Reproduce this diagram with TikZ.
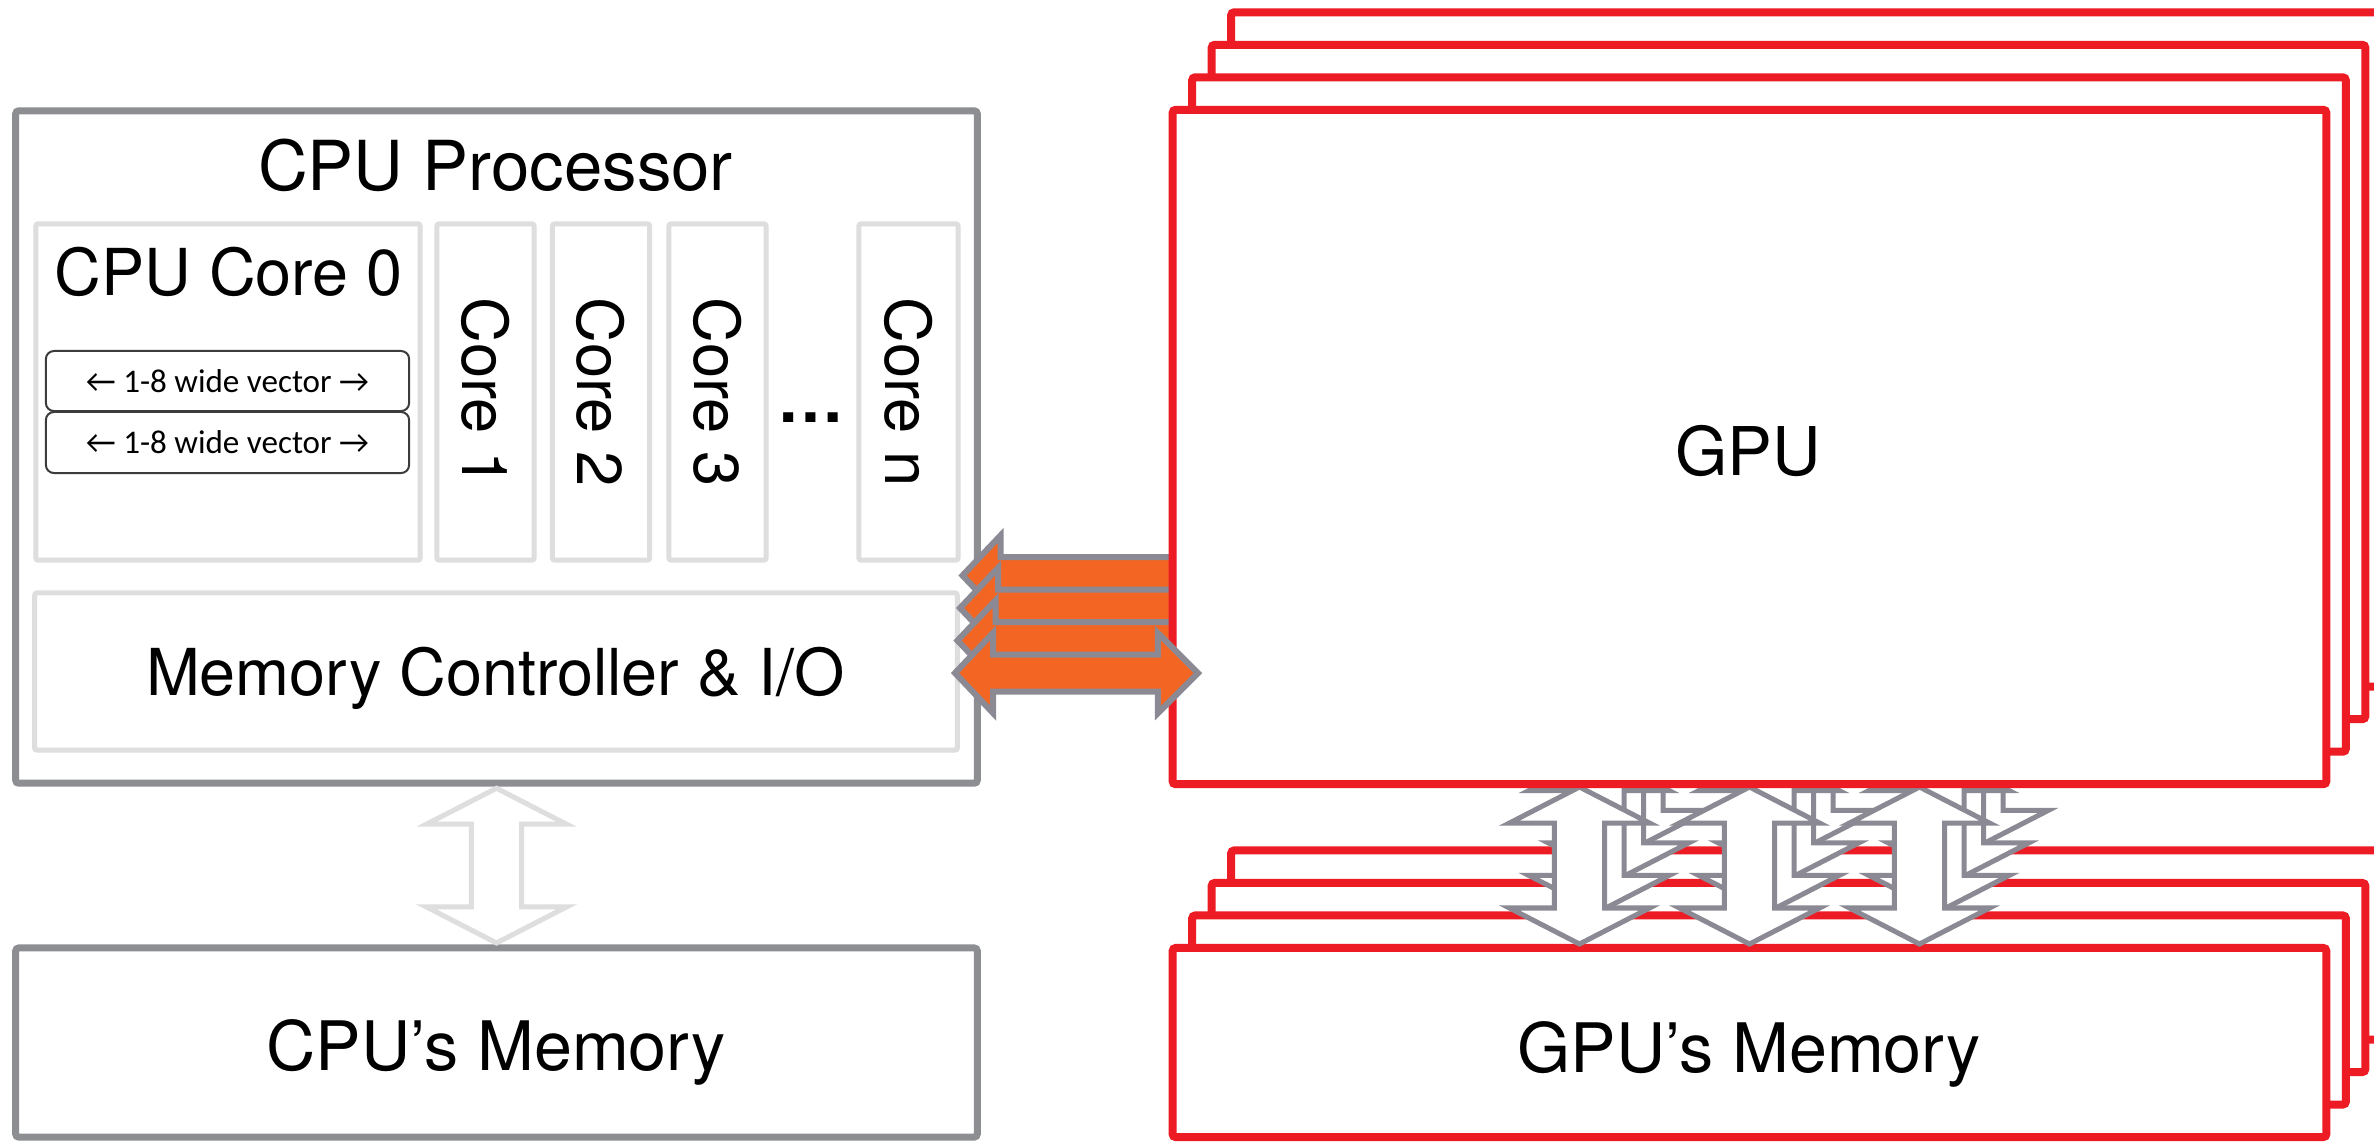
\documentclass[tikz,border=0pt]{standalone}
\usepackage{fontspec}
\setmainfont{TeX Gyre Heros}
\newfontfamily\vecfont{Carlito}
\usetikzlibrary{calc}
\definecolor{cpugray}{RGB}{140,142,145}
\definecolor{lightgrayb}{RGB}{222,222,222}
\definecolor{gpured}{RGB}{237,28,36}
\definecolor{arrorange}{RGB}{242,101,34}
\definecolor{arrgray}{RGB}{139,138,148}
\definecolor{vecgray}{RGB}{60,60,60}
\newcommand\fsz[1]{\fontsize{#1}{#1}\selectfont}
% vertical double block arrow: style, top point, bottom point
\newcommand\vdarrow[3]{%
 \draw[#1] let \p1=(#2), \p2=(#3) in
  (\x1,\y1) -- (\x1+0.70cm,\y1-0.36cm) -- (\x1+0.25cm,\y1-0.36cm) -- (\x1+0.25cm,\y2+0.36cm)
  -- (\x1+0.70cm,\y2+0.36cm) -- (\x1,\y2) -- (\x1-0.70cm,\y2+0.36cm) -- (\x1-0.25cm,\y2+0.36cm)
  -- (\x1-0.25cm,\y1-0.36cm) -- (\x1-0.70cm,\y1-0.36cm) -- cycle;}
% horizontal double block arrow: style, left point, right point
\newcommand\hdarrow[3]{%
 \draw[#1] let \p1=(#2), \p2=(#3) in
  (\x1,\y1) -- (\x1+0.38cm,\y1+0.40cm) -- (\x1+0.38cm,\y1+0.185cm) -- (\x2-0.40cm,\y1+0.185cm)
  -- (\x2-0.40cm,\y1+0.40cm) -- (\x2,\y1) -- (\x2-0.40cm,\y1-0.40cm) -- (\x2-0.40cm,\y1-0.185cm)
  -- (\x1+0.38cm,\y1-0.185cm) -- (\x1+0.38cm,\y1-0.40cm) -- cycle;}
\begin{document}
\begin{tikzpicture}[x=0.01cm,y=-0.01cm,
  cpubox/.style={draw=cpugray, line width=0.07cm, fill=white, rounded corners=0.03cm, inner sep=0, outer sep=0},
  corebox/.style={draw=lightgrayb, line width=0.05cm, rounded corners=0.02cm, inner sep=0, outer sep=0},
  vecbox/.style={draw=vecgray, line width=0.02cm, rounded corners=0.08cm, inner sep=0, outer sep=0, font=\vecfont\fsz{9.4pt}},
  gpubox/.style={draw=gpured, line width=0.08cm, fill=white, rounded corners=0.03cm, inner sep=0, outer sep=0},
  lbl/.style={inner sep=0, outer sep=0, text=black},
  orangearr/.style={draw=arrgray, fill=arrorange, line width=0.06cm},
  hollowarr/.style={draw=arrgray, fill=white, line width=0.05cm},
  lightarr/.style={draw=lightgrayb, fill=white, line width=0.05cm}]
\useasboundingbox (0,0) rectangle (2374,1141);
\fill[white] (0,0) rectangle (2374,1141);

% ---------------- CPU side ----------------
\node[cpubox, minimum width=9.61cm, minimum height=6.72cm] (cpu) at (496.5,447) {};
\node[lbl, anchor=base, font=\fsz{19.6pt}] (cputitle) at (495.5,190) {CPU Processor};

\node[corebox, minimum width=3.84cm, minimum height=3.36cm] (core0) at (228,392) {};
\node[lbl, anchor=base, font=\fsz{18.4pt}] (core0lbl) at (228.5,295) {CPU Core 0};
\node[vecbox, minimum width=3.63cm, minimum height=0.60cm] (vec1) at (227.5,381) {← 1-8 wide vector →};
\node[vecbox, minimum width=3.63cm, minimum height=0.61cm] (vec2) at (227.5,442.5) {← 1-8 wide vector →};

\node[corebox, minimum width=0.97cm, minimum height=3.36cm] (core1) at (485.5,392) {};
\node[corebox, minimum width=0.97cm, minimum height=3.36cm] (core2) at (601,392) {};
\node[corebox, minimum width=0.97cm, minimum height=3.36cm] (core3) at (717.5,392) {};
\node[corebox, minimum width=0.99cm, minimum height=3.36cm] (coren) at (908.5,392) {};
\node[lbl, rotate=-90, font=\fsz{18pt}] (core1lbl) at (core1) {Core 1};
\node[lbl, rotate=-90, font=\fsz{18pt}] (core2lbl) at (core2) {Core 2};
\node[lbl, rotate=-90, font=\fsz{18pt}] (core3lbl) at (core3) {Core 3};
\node[lbl, rotate=-90, font=\fsz{18pt}] (corenlbl) at (coren) {Core n};
\node[lbl, anchor=base, font=\bfseries\fsz{19pt}] (dots) at (811,422) {…};

\node[corebox, minimum width=9.22cm, minimum height=1.57cm] (memctrl) at (496,671.5) {};
\node[lbl, anchor=base, font=\fsz{18.4pt}] (memctrllbl) at (495.5,695) {Memory Controller \& I/O};

\node[cpubox, minimum width=9.61cm, minimum height=1.89cm] (cpumem) at (496.5,1042.5) {};
\node[lbl, anchor=base, font=\fsz{19.4pt}] (cpumemlbl) at (496,1070) {CPU’s Memory};

\coordinate (ct) at ($(cpu.south)+(0,-0.05cm)$);
\coordinate (cb) at ($(cpumem.north)+(0,0.05cm)$);
\vdarrow{lightarr}{ct}{cb}

% ---------------- GPU memory stack ----------------
\foreach \i in {3,2,1,0} {
  \node[gpubox, minimum width=11.53cm, minimum height=1.89cm] (gmem\i) at ({1749.5+19.5*\i},{1042.5-32.5*\i}) {};
}
\node[lbl, anchor=base, font=\fsz{19.4pt}] (gmemlbl) at (1749,1072) {GPU’s Memory};

% GPU <-> GPU memory arrows
\foreach \i in {3,2,1,0} {
  \foreach \g/\grp in {-170/a,0/b,170/c} {
    \coordinate (mt\i\grp) at ({1749.5+\g+19.5*\i},{787-32.5*\i});
    \coordinate (mb\i\grp) at ({1749.5+\g+19.5*\i},{944-32.5*\i});
    \edef\mtname{mt\i\grp}\edef\mbname{mb\i\grp}
    \vdarrow{hollowarr}{\mtname}{\mbname}
  }
}

% ---------------- GPU stack ----------------
\foreach \i in {3,2,1} {
  \node[gpubox, minimum width=11.53cm, minimum height=6.74cm] (gpu\i) at ({1749.5+19.5*\i},{447-32.5*\i}) {};
}
\foreach \i in {3,2,1} {
  \coordinate (oL\i) at ({955+2.5*\i},{673-32.5*\i});
  \coordinate (oR\i) at ({1198+19.5*\i},{673-32.5*\i});
  \edef\olname{oL\i}\edef\orname{oR\i}
  \hdarrow{orangearr}{\olname}{\orname}
}
\node[gpubox, minimum width=11.53cm, minimum height=6.74cm] (gpu0) at (1749.5,447) {};
\node[lbl, font=\fsz{19.1pt}] (gpulbl) at (1748.5,451) {GPU};
\coordinate (oL0) at (955,673);
\coordinate (oR0) at (1198,673);
\hdarrow{orangearr}{oL0}{oR0}
\end{tikzpicture}
\end{document}
